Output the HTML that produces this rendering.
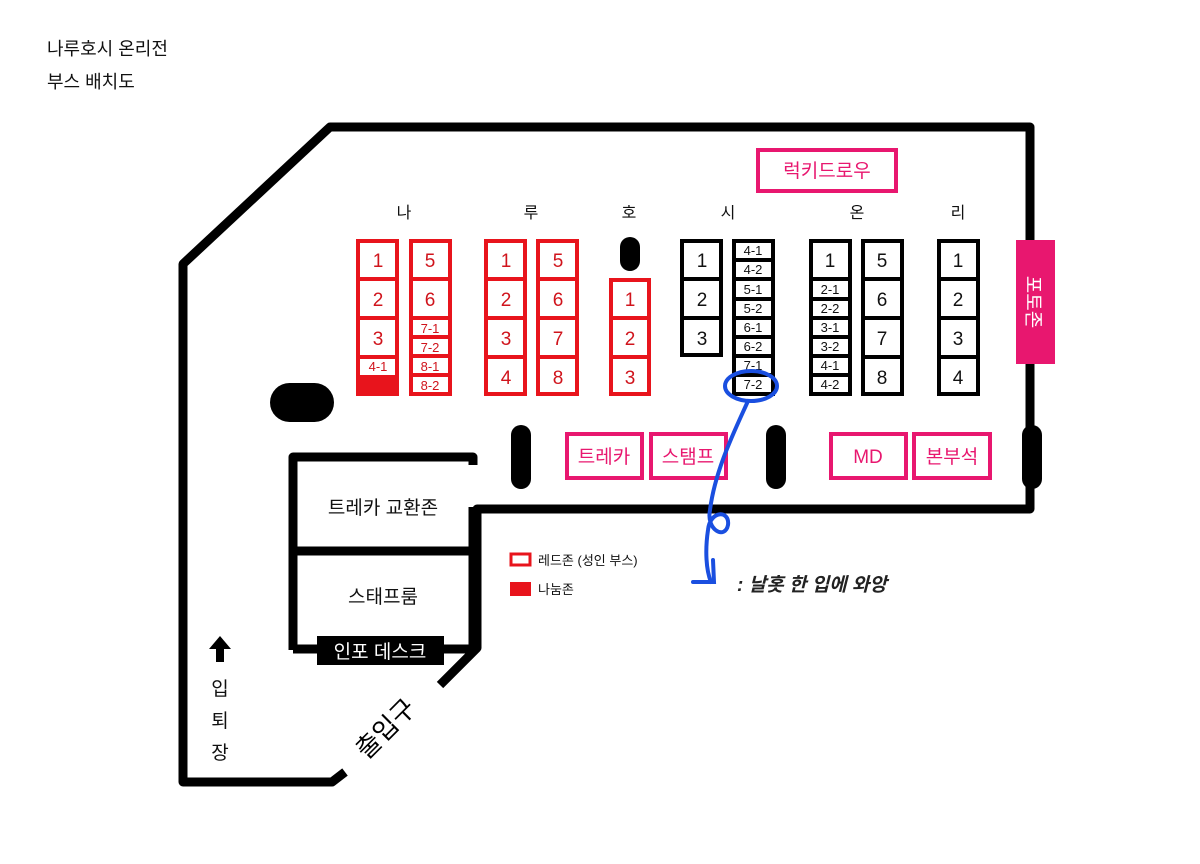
<!DOCTYPE html>
<html><head><meta charset="utf-8"><style>
html,body{margin:0;padding:0;background:#fff;width:1200px;height:864px;overflow:hidden}
svg text{font-family:"Liberation Sans","Noto Sans CJK KR",sans-serif}
</style></head><body>
<svg width="1200" height="864" viewBox="0 0 1200 864" xmlns="http://www.w3.org/2000/svg">
<rect width="1200" height="864" fill="#fff"/>
<text x="47" y="55" font-size="18" fill="#111">나루호시 온리전</text>
<text x="47" y="88" font-size="18" fill="#111">부스 배치도</text>

<!-- walls -->
<g fill="none" stroke="#000" stroke-width="9" stroke-linejoin="round" stroke-linecap="butt">
<path d="M345,772 L332,782 L183,782 L183,264 L330,127 L1030,127 L1030,509 L477,509 L477,648 L440,685"/>
<path d="M293,650 L293,457 L473,457 L473,465"/>
<path d="M293,551 L473,551"/>
<path d="M293,649 L473,649 L473,507"/>
</g>
<rect x="317" y="636" width="127" height="29" fill="#000"/>
<text x="380" y="658" font-size="19" fill="#fff" text-anchor="middle">인포 데스크</text>
<text x="383" y="514" font-size="19" fill="#111" text-anchor="middle">트레카 교환존</text>
<text x="383" y="603" font-size="19" fill="#111" text-anchor="middle">스태프룸</text>
<text transform="translate(392,735) rotate(-45)" font-size="26" fill="#000" text-anchor="middle">출입구</text>
<polygon points="220,636 209,649 216,649 216,662 224,662 224,649 231,649" fill="#000"/>
<text x="220" y="695" font-size="19" text-anchor="middle" fill="#111">입</text>
<text x="220" y="727" font-size="19" text-anchor="middle" fill="#111">퇴</text>
<text x="220" y="759" font-size="19" text-anchor="middle" fill="#111">장</text>

<!-- pills -->
<g fill="#000">
<rect x="270" y="383" width="64" height="39" rx="19.5"/>
<rect x="620" y="237" width="20" height="34" rx="10"/>
<rect x="511" y="425" width="20" height="64" rx="10"/>
<rect x="766" y="425" width="20" height="64" rx="10"/>
<rect x="1022" y="425" width="20" height="64" rx="10"/>
</g>

<!-- headers -->
<g font-size="16" fill="#111" text-anchor="middle">
<text x="404" y="218">나</text><text x="531" y="218">루</text><text x="629" y="218">호</text>
<text x="728" y="218">시</text><text x="857" y="218">온</text><text x="958" y="218">리</text>
</g>

<!-- pink -->
<g fill="none" stroke="#e8176f" stroke-width="4">
<rect x="758" y="150" width="138" height="41"/>
<rect x="567" y="434" width="75" height="44"/>
<rect x="651" y="434" width="75" height="44"/>
<rect x="831" y="434" width="75" height="44"/>
<rect x="914" y="434" width="76" height="44"/>
</g>
<g fill="#e8176f" font-size="19" text-anchor="middle">
<text x="827" y="177">럭키드로우</text>
<text x="604" y="463">트레카</text>
<text x="688" y="463">스탬프</text>
<text x="868" y="463">MD</text>
<text x="952" y="463">본부석</text>
</g>
<rect x="1016" y="240" width="39" height="124" fill="#e8176f"/>
<text transform="translate(1027,302) rotate(90)" font-size="19" fill="#fff" text-anchor="middle">포토존</text>

<!-- red booths -->
<g fill="none" stroke="#e8141c" stroke-width="4">
<rect x="358" y="241" width="39" height="153"/>
<line x1="358" y1="279" x2="397" y2="279"/><line x1="358" y1="318" x2="397" y2="318"/><line x1="358" y1="357" x2="397" y2="357"/>
<rect x="411" y="241" width="39" height="153"/>
<line x1="411" y1="279" x2="450" y2="279"/><line x1="411" y1="318" x2="450" y2="318"/><line x1="411" y1="337" x2="450" y2="337"/><line x1="411" y1="356" x2="450" y2="356"/><line x1="411" y1="375" x2="450" y2="375"/>
<rect x="486" y="241" width="39" height="153"/>
<line x1="486" y1="279" x2="525" y2="279"/><line x1="486" y1="318" x2="525" y2="318"/><line x1="486" y1="357" x2="525" y2="357"/>
<rect x="538" y="241" width="39" height="153"/>
<line x1="538" y1="279" x2="577" y2="279"/><line x1="538" y1="318" x2="577" y2="318"/><line x1="538" y1="357" x2="577" y2="357"/>
<rect x="611" y="280" width="38" height="114"/>
<line x1="611" y1="318" x2="649" y2="318"/><line x1="611" y1="357" x2="649" y2="357"/>
</g>
<rect x="358" y="375" width="39" height="19" fill="#e8141c"/>
<g fill="#d0141c" font-size="19" text-anchor="middle">
<text x="378" y="267">1</text><text x="378" y="306">2</text><text x="378" y="345">3</text>
<text x="430" y="267">5</text><text x="430" y="306">6</text>
<text x="506" y="267">1</text><text x="506" y="306">2</text><text x="506" y="345">3</text><text x="506" y="384">4</text>
<text x="558" y="267">5</text><text x="558" y="306">6</text><text x="558" y="345">7</text><text x="558" y="384">8</text>
<text x="630" y="306">1</text><text x="630" y="345">2</text><text x="630" y="384">3</text>
</g>
<g fill="#d0141c" font-size="13" text-anchor="middle">
<text x="378" y="371">4-1</text>
<text x="430" y="333">7-1</text><text x="430" y="352">7-2</text><text x="430" y="371">8-1</text><text x="430" y="390">8-2</text>
</g>

<!-- black booths -->
<g fill="none" stroke="#000" stroke-width="4">
<rect x="682" y="241" width="39" height="114"/>
<line x1="682" y1="279" x2="721" y2="279"/><line x1="682" y1="318" x2="721" y2="318"/>
<rect x="734" y="241" width="39" height="153"/>
<line x1="734" y1="260" x2="773" y2="260"/><line x1="734" y1="279" x2="773" y2="279"/><line x1="734" y1="299" x2="773" y2="299"/><line x1="734" y1="318" x2="773" y2="318"/><line x1="734" y1="337" x2="773" y2="337"/><line x1="734" y1="356" x2="773" y2="356"/><line x1="734" y1="375" x2="773" y2="375"/>
<rect x="811" y="241" width="39" height="153"/>
<line x1="811" y1="279" x2="850" y2="279"/><line x1="811" y1="299" x2="850" y2="299"/><line x1="811" y1="318" x2="850" y2="318"/><line x1="811" y1="337" x2="850" y2="337"/><line x1="811" y1="356" x2="850" y2="356"/><line x1="811" y1="375" x2="850" y2="375"/>
<rect x="863" y="241" width="39" height="153"/>
<line x1="863" y1="279" x2="902" y2="279"/><line x1="863" y1="318" x2="902" y2="318"/><line x1="863" y1="357" x2="902" y2="357"/>
<rect x="939" y="241" width="39" height="153"/>
<line x1="939" y1="279" x2="978" y2="279"/><line x1="939" y1="318" x2="978" y2="318"/><line x1="939" y1="357" x2="978" y2="357"/>
</g>
<g fill="#111" font-size="19" text-anchor="middle">
<text x="702" y="267">1</text><text x="702" y="306">2</text><text x="702" y="345">3</text>
<text x="830" y="267">1</text>
<text x="882" y="267">5</text><text x="882" y="306">6</text><text x="882" y="345">7</text><text x="882" y="384">8</text>
<text x="958" y="267">1</text><text x="958" y="306">2</text><text x="958" y="345">3</text><text x="958" y="384">4</text>
</g>
<g fill="#111" font-size="13" text-anchor="middle">
<text x="753" y="255">4-1</text><text x="753" y="274">4-2</text><text x="753" y="294">5-1</text><text x="753" y="313">5-2</text>
<text x="753" y="332">6-1</text><text x="753" y="351">6-2</text><text x="753" y="370">7-1</text><text x="753" y="389">7-2</text>
<text x="830" y="294">2-1</text><text x="830" y="313">2-2</text><text x="830" y="332">3-1</text><text x="830" y="351">3-2</text><text x="830" y="370">4-1</text><text x="830" y="389">4-2</text>
</g>

<!-- legend -->
<rect x="511" y="554" width="19" height="11" fill="none" stroke="#e8141c" stroke-width="3"/>
<text x="538" y="565" font-size="13" fill="#111">레드존 (성인 부스)</text>
<rect x="510" y="582" width="21" height="14" fill="#e8141c"/>
<text x="538" y="594" font-size="13" fill="#111">나눔존</text>

<!-- blue annotation -->
<g fill="none" stroke="#1a4fe0" stroke-width="4" stroke-linecap="round">
<ellipse cx="751" cy="386" rx="26" ry="15"/>
<path d="M748,401 C735,430 715,470 710,510 C706,530 725,540 728,525 C730,510 710,510 708,530 C705,550 706,570 711,582"/>
<path d="M693,582 L714,582 L713,560"/>
</g>
<text x="737" y="591" font-size="19" font-weight="bold" font-style="italic" fill="#222">: 날홋 한 입에 와앙</text>
</svg>
</body></html>
